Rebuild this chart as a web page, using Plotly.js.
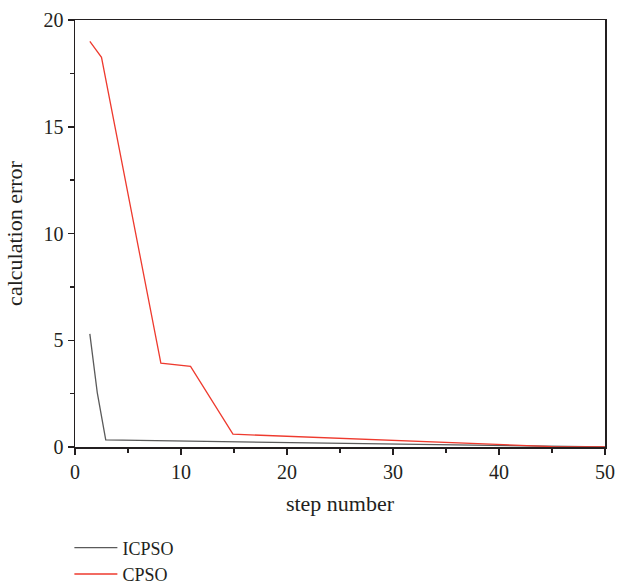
<!DOCTYPE html>
<html>
<head>
<meta charset="utf-8">
<script src="https://cdn.plot.ly/plotly-3.0.1.min.js"></script>
<style>html,body{margin:0;padding:0;background:#fff;}#chart{width:618px;height:584px;}</style>
</head>
<body>
<div id="chart"></div>
<script>
const icpsoX = [1.4, 2.1, 2.9, 15, 20, 30, 40, 50];
const icpsoY = [5.3, 2.55, 0.33, 0.25, 0.22, 0.16, 0.06, 0.0];
const cpsoX = [1.4, 2.5, 8.1, 10.9, 14.9, 20, 30, 40, 45, 50];
const cpsoY = [19.0, 18.25, 3.93, 3.78, 0.6, 0.5, 0.3, 0.1, 0.02, 0.0];
const seriesNames = ["ICPSO", "CPSO"];
const xTitle = "step number";
const yTitle = "calculation error";

const fontFam = "Liberation Serif, Times New Roman, serif";
const fs = 20;
const traces = [
  {x: icpsoX, y: icpsoY, name: seriesNames[0], mode: "lines", line: {color: "#5a5a5a", width: 1.3}},
  {x: cpsoX, y: cpsoY, name: seriesNames[1], mode: "lines", line: {color: "#ee3a2e", width: 1.3}}
];
const layout = {
  width: 618, height: 584,
  margin: {l: 75, r: 13, t: 20, b: 137, autoexpand: false},
  paper_bgcolor: "#fff", plot_bgcolor: "#fff",
  font: {family: fontFam, size: fs, color: "#231f20"},
  showlegend: true,
  legend: {x: -0.0106, xanchor: "left", y: -0.193, yanchor: "top",
           orientation: "v", font: {family: fontFam, size: 18, color: "#231f20"},
           tracegroupgap: 0, itemwidth: 43, bgcolor: "rgba(0,0,0,0)"},
  xaxis: {range: [0, 50], dtick: 10, tick0: 0, showgrid: false, zeroline: false, automargin: false,
          showline: true, linecolor: "#231f20", linewidth: 1.5, mirror: true,
          ticks: "outside", ticklen: 6, tickwidth: 1.5, tickcolor: "#231f20",
          minor: {dtick: 5, ticks: "outside", ticklen: 4, tickwidth: 1.3, tickcolor: "#231f20", showgrid: false},
          title: {text: xTitle, font: {family: fontFam, size: 22}, standoff: 14},
          tickfont: {family: fontFam, size: fs}},
  yaxis: {range: [0, 20], dtick: 5, tick0: 0, showgrid: false, zeroline: false, automargin: false,
          showline: true, linecolor: "#231f20", linewidth: 1.5, mirror: true,
          ticks: "outside", ticklen: 6, tickwidth: 1.5, tickcolor: "#231f20",
          minor: {dtick: 2.5, ticks: "outside", ticklen: 4, tickwidth: 1.3, tickcolor: "#231f20", showgrid: false},
          title: {text: yTitle, font: {family: fontFam, size: 22}, standoff: 15},
          tickfont: {family: fontFam, size: fs}}
};
Plotly.newPlot("chart", traces, layout, {displayModeBar: false, staticPlot: true});
</script>
</body>
</html>
